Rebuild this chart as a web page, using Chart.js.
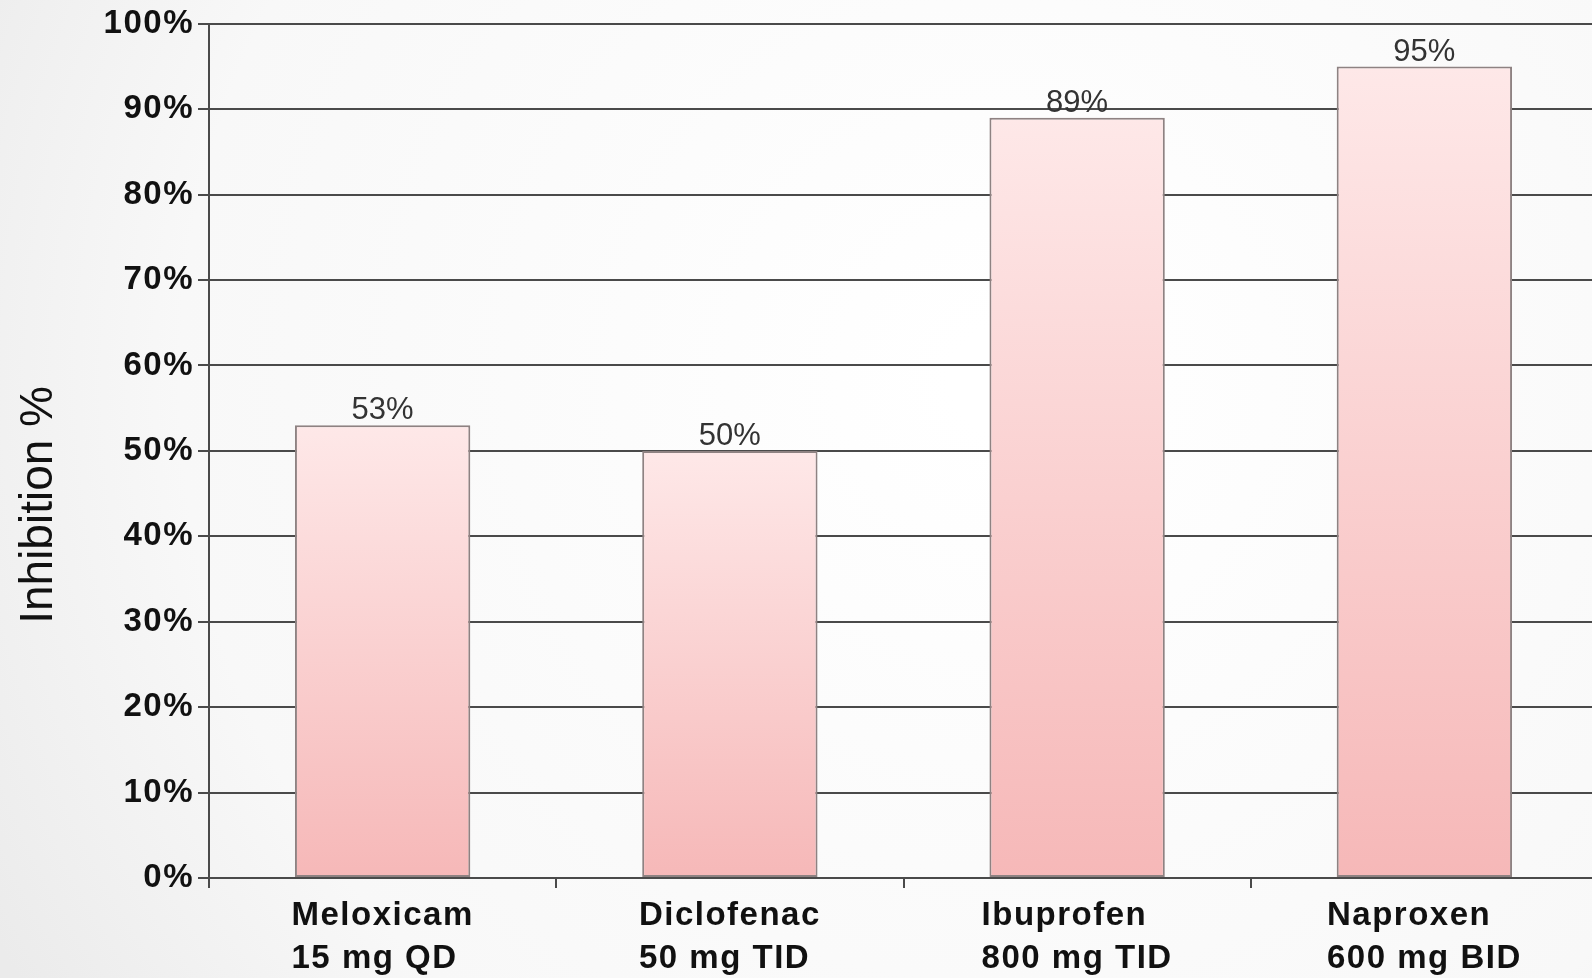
<!doctype html>
<html>
<head>
  <title>Inhibition by NSAID</title>
  <script src="https://cdn.jsdelivr.net/npm/chart.js@4.4.0/dist/chart.umd.min.js"></script>
  <style>
    html, body { margin: 0; padding: 0; overflow: hidden; background: #fff; }
    #container { width: 1598px; height: 978px; position: relative; }
  </style>
</head>
<body>
<div id="container">
  <canvas id="bar-chart"></canvas>
</div>
<script>
// chart data
const drugs = ['Meloxicam', 'Diclofenac', 'Ibuprofen', 'Naproxen'];
const doses = ['15 mg QD', '50 mg TID', '800 mg TID', '600 mg BID'];
const inhibition = [53, 50, 89, 95];
const axisTitle = 'Inhibition %';

const gridColor = '#4a4a4a';
const fontFamily = '"Liberation Sans", Arial, sans-serif';

// soft grey slide background + slight letter spacing for axis text
const backdrop = {
  id: 'backdrop',
  beforeDraw: function(chart) {
    const ctx = chart.ctx;
    const g = ctx.createRadialGradient(1000, 380, 50, 1000, 380, 1150);
    g.addColorStop(0, '#ffffff');
    g.addColorStop(0.7, '#f8f8f8');
    g.addColorStop(1, '#ebebeb');
    ctx.save();
    ctx.fillStyle = g;
    ctx.fillRect(0, 0, chart.width, chart.height);
    ctx.restore();
    ctx.letterSpacing = '1.5px';
  },
  beforeDatasetsDraw: function(chart) {
    chart.ctx.letterSpacing = '0px';
  }
};

// category labels, two lines, left aligned as a block under each bar
const xLabels = {
  id: 'xLabels',
  afterDraw: function(chart) {
    const ctx = chart.ctx;
    const x = chart.scales.x;
    ctx.save();
    ctx.font = 'bold 33px ' + fontFamily;
    ctx.letterSpacing = '1.5px';
    ctx.fillStyle = '#111';
    ctx.textAlign = 'left';
    ctx.textBaseline = 'alphabetic';
    drugs.forEach(function(d, i) {
      const lines = [d, doses[i]];
      const w = Math.max.apply(null, lines.map(function(s) { return ctx.measureText(s).width; }));
      const left = x.getPixelForTick(i) - w / 2;
      lines.forEach(function(s, j) {
        ctx.fillText(s, left, x.top + 47 + j * 43);
      });
    });
    ctx.restore();
  }
};

// percent labels above each bar
const valueLabels = {
  id: 'valueLabels',
  afterDatasetsDraw: function(chart) {
    const ctx = chart.ctx;
    const meta = chart.getDatasetMeta(0);
    ctx.save();
    ctx.font = '31px ' + fontFamily;
    ctx.fillStyle = '#333';
    ctx.textAlign = 'center';
    ctx.textBaseline = 'alphabetic';
    meta.data.forEach(function(bar, i) {
      ctx.fillText(inhibition[i] + '%', bar.x, bar.y - 6);
    });
    ctx.restore();
  }
};

// rotated axis title, drawn by hand so it can sit a bit low like the original
const yTitle = {
  id: 'yTitle',
  afterDraw: function(chart) {
    const ctx = chart.ctx;
    const area = chart.chartArea;
    ctx.save();
    ctx.letterSpacing = '0px';
    ctx.translate(52, (area.top + area.bottom) / 2 + 54);
    ctx.rotate(-Math.PI / 2);
    ctx.font = '46px ' + fontFamily;
    ctx.fillStyle = '#111';
    ctx.textAlign = 'center';
    ctx.textBaseline = 'alphabetic';
    ctx.fillText(axisTitle, 0, 0);
    ctx.restore();
  }
};

function barFill(context) {
  const chart = context.chart;
  const y = chart.scales.y;
  if (!chart.chartArea || !y || context.parsed === undefined) return '#fad0d0';
  const top = y.getPixelForValue(context.parsed.y);
  const bottom = y.getPixelForValue(0);
  if (!isFinite(top) || !isFinite(bottom)) return '#fad0d0';
  const g = chart.ctx.createLinearGradient(0, top, 0, bottom);
  g.addColorStop(0, '#fee8e8');
  g.addColorStop(1, '#f6b8b8');
  return g;
}

new Chart(document.getElementById('bar-chart'), {
  type: 'bar',
  data: {
    labels: drugs,
    datasets: [{
      label: axisTitle,
      data: inhibition,
      backgroundColor: barFill,
      borderColor: '#8e8282',
      borderWidth: 2,
      borderSkipped: false,
      barPercentage: 0.505,
      categoryPercentage: 1
    }]
  },
  options: {
    responsive: true,
    maintainAspectRatio: false,
    animation: false,
    layout: { padding: { top: 2, right: 0, bottom: 0, left: 0 } },
    plugins: {
      legend: { display: false },
      tooltip: { enabled: false },
      title: { display: false }
    },
    scales: {
      x: {
        afterFit: function(scale) { scale.height = 100; },
        grid: {
          offset: true,
          drawOnChartArea: false,
          color: gridColor,
          lineWidth: 2,
          tickLength: 10
        },
        border: { display: true, color: gridColor, width: 2 },
        ticks: { display: false }
      },
      y: {
        min: 0,
        max: 100,
        afterFit: function(scale) { scale.width = 209; },
        grid: {
          color: gridColor,
          lineWidth: 2,
          tickLength: 11
        },
        border: { display: true, color: gridColor, width: 2 },
        ticks: {
          stepSize: 10,
          color: '#111',
          padding: 4,
          font: { family: fontFamily, size: 33, weight: 'bold' },
          callback: function(v) { return v + '%'; }
        }
      }
    }
  },
  plugins: [backdrop, valueLabels, xLabels, yTitle]
});
</script>
</body>
</html>
